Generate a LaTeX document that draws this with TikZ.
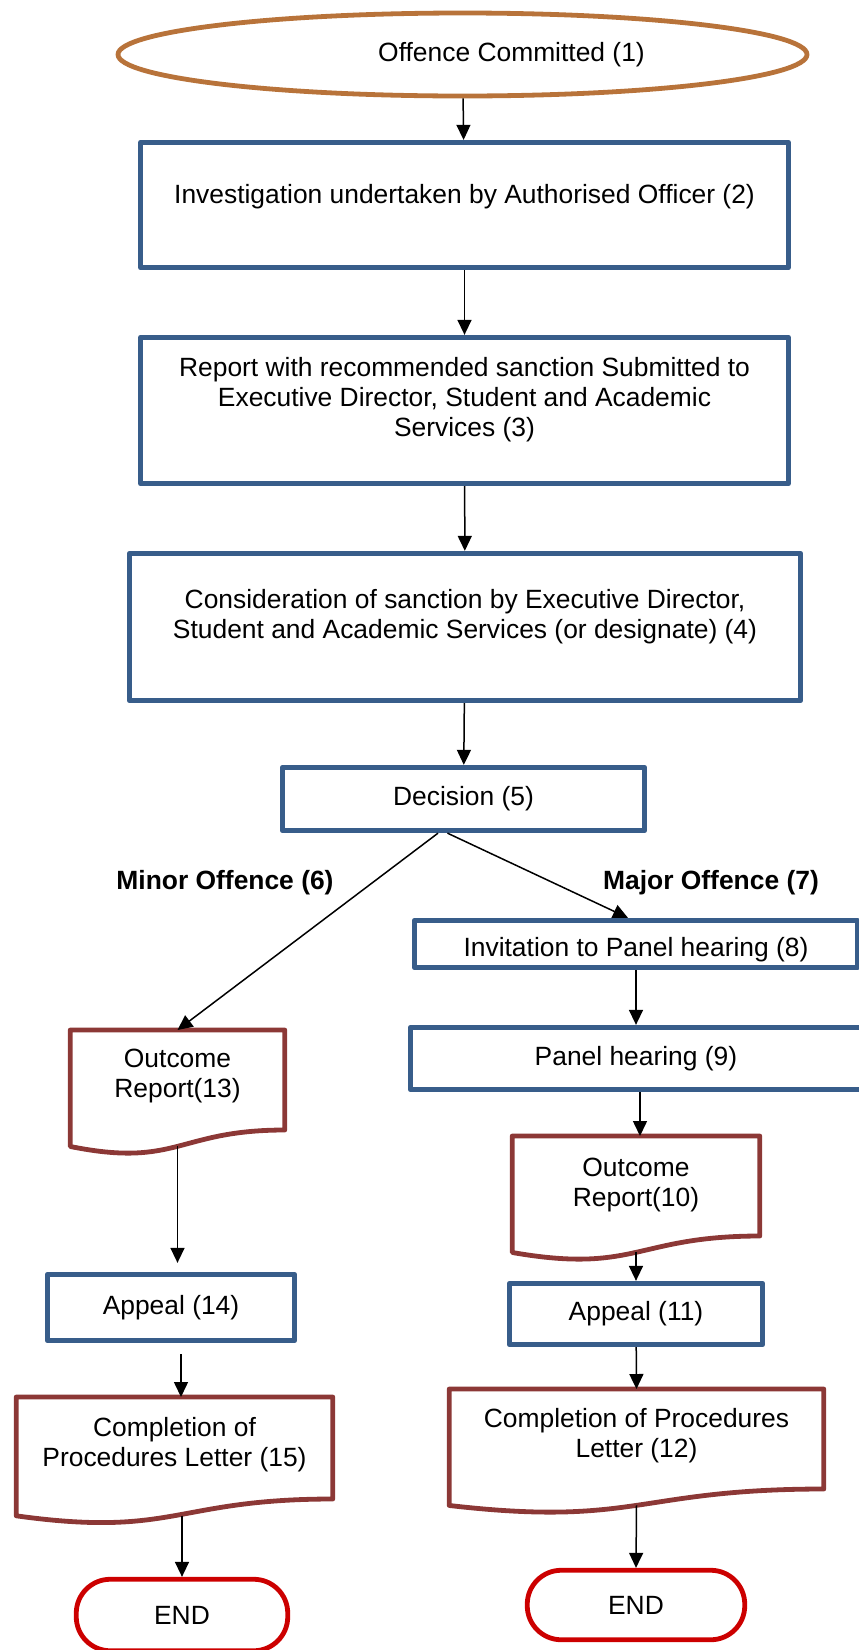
\documentclass[tikz,border=0pt]{standalone}
\usepackage{fontspec}
\setmainfont{Liberation Sans}
\usetikzlibrary{shapes.geometric,arrows.meta,calc}
\definecolor{boxblue}{HTML}{385D8A}
\definecolor{docred}{HTML}{8C3836}
\definecolor{startbrown}{HTML}{B8733A}
\definecolor{endred}{HTML}{CC0000}
\begin{document}
\begin{tikzpicture}[x=0.5pt, y=-0.5pt]
\tikzset{fcfont/.style={font=\fontsize{13.2}{15}\selectfont}}
\tikzset{fcstart/.style={shape=ellipse, draw=startbrown, line width=2.4pt, inner xsep=30.6pt, inner ysep=8.5pt, fcfont}}
\tikzset{fcbox/.style={shape=rectangle, draw=boxblue, line width=2.4pt, line join=round, align=center, inner sep=2pt, fcfont}}
\tikzset{fcdoc/.style={shape=rectangle, outer sep=0pt, align=center, text depth=6.5pt, fcfont}}
\tikzset{fcdocline/.style={draw=docred, line width=2.4pt, line join=round}}
\tikzset{fcend/.style={shape=rectangle, draw=endred, line width=2.4pt, rounded corners=17pt, fcfont}}
\tikzset{fcedge/.style={-{Triangle[width=7pt, length=7.5pt]}, line width=0.75pt}}
\tikzset{fclabel/.style={font=\fontsize{13.2}{15}\selectfont\bfseries}}
\useasboundingbox (0,0) rectangle (858,1650);
% main column
\node (e1)  [fcstart, minimum width=344.5pt, minimum height=41.5pt]          at (462.5,  54.5) {\hspace*{49pt}Offence Committed (1)};
\node (b2)  [fcbox, minimum width=324pt, minimum height=62.75pt, text depth=11pt] at (464.5, 205) {Investigation undertaken by Authorised Officer (2)};
\node (b3)  [fcbox, minimum width=324pt, minimum height=73.25pt, text depth=14pt] at (464.5, 410.5) {Report with recommended sanction Submitted to\\Executive Director, Student and Academic\\Services (3)};
\node (b4)  [fcbox, minimum width=335.75pt, minimum height=73.75pt, text depth=13.2pt] at (465, 627) {Consideration of sanction by Executive Director,\\Student and Academic Services (or designate) (4)};
\node (b5)  [fcbox, minimum width=181.25pt, minimum height=31.75pt]          at (463.5, 799) {Decision (5)};
% branch labels
\node (minor) [fclabel]                                                      at (225, 883) {Minor Offence (6)};
\node (major) [fclabel]                                                      at (711, 883) {Major Offence (7)};
% major offence column
\node (b8)  [fcbox, minimum width=221.75pt, minimum height=23.75pt, text height=15.3pt, inner sep=0pt] at (636, 944) {Invitation to Panel hearing (8)};
\node (b9)  [fcbox, minimum width=225.75pt, minimum height=31.25pt]          at (636, 1058.5) {Panel hearing (9)};
\node (d10) [fcdoc, minimum width=123.75pt, minimum height=50pt, text depth=3.5pt] at (636, 1186) {Outcome\\Report(10)};
\node (b11) [fcbox, minimum width=126.75pt, minimum height=30.75pt]          at (636, 1314) {Appeal (11)};
\node (d12) [fcdoc, minimum width=187.25pt, minimum height=50pt]             at (636.5, 1439) {Completion of Procedures\\Letter (12)};
\node (end2) [fcend, minimum width=108.75pt, minimum height=34.75pt]         at (636, 1605) {END};
% minor offence column
\node (d13) [fcdoc, minimum width=107.25pt, minimum height=50pt]             at (177.5, 1080) {Outcome\\Report(13)};
\node (b14) [fcbox, minimum width=123.75pt, minimum height=33.25pt]          at (171, 1307.5) {Appeal (14)};
\node (d15) [fcdoc, minimum width=158.25pt, minimum height=51pt]             at (174.5, 1448) {Completion of\\Procedures Letter (15)};
\node (end1) [fcend, minimum width=105.75pt, minimum height=35.75pt]         at (182, 1615) {END};
% document outlines with wavy bottom
\foreach \n in {d10, d12, d13, d15} {
  \draw[fcdocline] (\n.north west) -- (\n.north east) -- (\n.south east)
    .. controls (\n.south) and ($(\n.north)!1.381!(\n.south)$)
    .. ($(\n.north west)!1.1646!(\n.south west)$) -- cycle;
  \coordinate (\n-b) at ($(\n.north)!1.163!(\n.south)$);
}
% connectors
\draw[fcedge] (e1) -- (b2);
\draw[fcedge] (b2) -- (b3);
\draw[fcedge] (b3) -- (b4);
\draw[fcedge] (b4) -- (b5);
\draw[fcedge] ([xshift=-12.75pt]b5.south) -- (d13.north);
\draw[fcedge] ([xshift=-8pt]b5.south) -- ([xshift=-4pt]b8.north);
\draw[fcedge] (b8) -- (b9);
\draw[fcedge] ([xshift=2pt]b9.south) -- ([xshift=2pt]d10.north);
\draw[fcedge] (d10-b) -- (b11.north);
\draw[fcedge] (b11) -- (d12.north);
\draw[fcedge] (d12-b) -- (end2.north);
\draw[fcedge, shorten >=4.5pt] (d13-b) -- (d13-b |- b14.north);
\draw[fcedge, shorten <=5.5pt] ([xshift=5pt]b14.south) -- ([xshift=5pt]b14.south |- d15.north);
\draw[fcedge] (d15-b -| end1.north) -- (end1.north);
\end{tikzpicture}
\end{document}
